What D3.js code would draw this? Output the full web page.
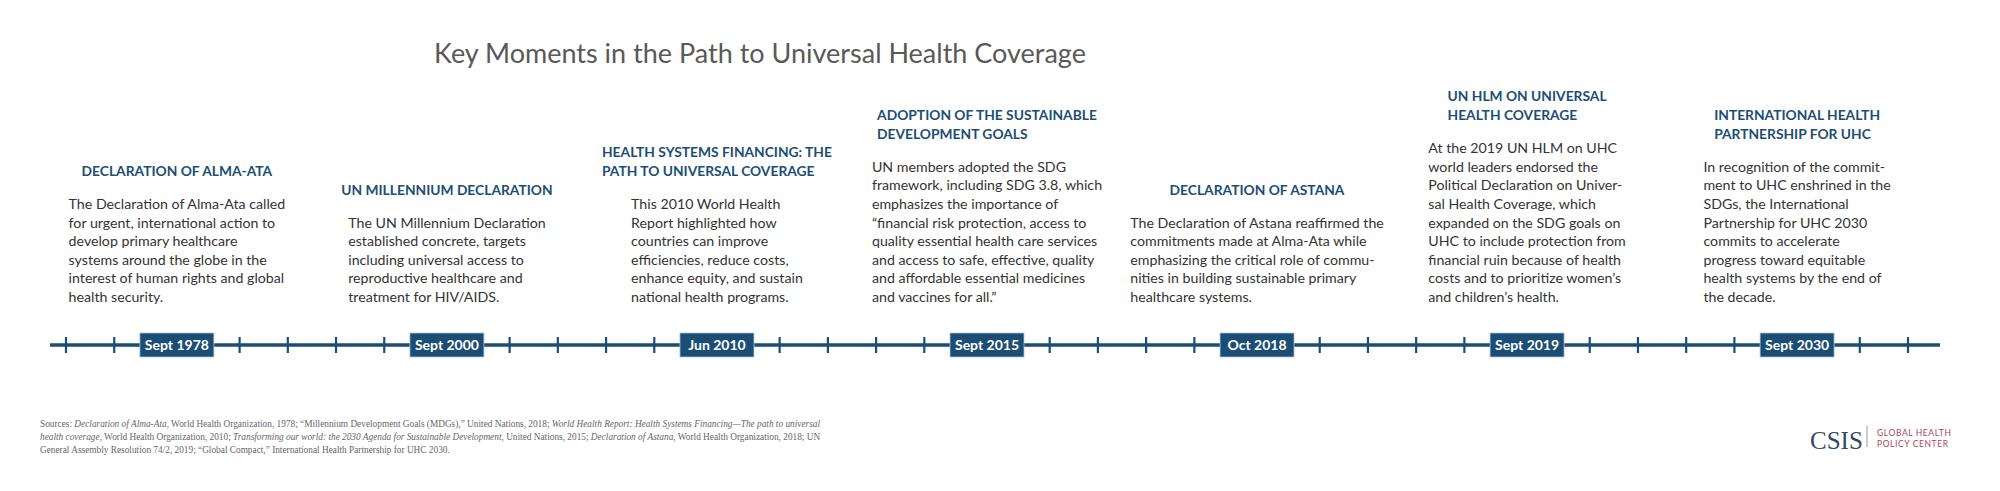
<!DOCTYPE html>
<html><head><meta charset="utf-8">
<script src="https://cdn.jsdelivr.net/npm/d3@7"></script>
<style>body{margin:0;background:#fff}</style>
</head><body><div id="chart"></div>
<script>
var svgWidth = 2000, svgHeight = 491;

// timeline data
var dates = ["Sept 1978", "Sept 2000", "Jun 2010", "Sept 2015", "Oct 2018", "Sept 2019", "Sept 2030"];
// plain ticks before each date label, and after the last one
var ticksBefore = [2, 4, 4, 4, 4, 4, 4];
var ticksAfter = 2;
var headings = [
  ["DECLARATION OF ALMA-ATA"],
  ["UN MILLENNIUM DECLARATION"],
  ["HEALTH SYSTEMS FINANCING: THE", "PATH TO UNIVERSAL COVERAGE"],
  ["ADOPTION OF THE SUSTAINABLE", "DEVELOPMENT GOALS"],
  ["DECLARATION OF ASTANA"],
  ["UN HLM ON UNIVERSAL", "HEALTH COVERAGE"],
  ["INTERNATIONAL HEALTH", "PARTNERSHIP FOR UHC"]
];
var bodies = [
  ["The Declaration of Alma-Ata called", "for urgent, international action to", "develop primary healthcare", "systems around the globe in the", "interest of human rights and global", "health security."],
  ["The UN Millennium Declaration", "established concrete, targets", "including universal access to", "reproductive healthcare and", "treatment for HIV/AIDS."],
  ["This 2010 World Health", "Report highlighted how", "countries can improve", "efficiencies, reduce costs,", "enhance equity, and sustain", "national health programs."],
  ["UN members adopted the SDG", "framework, including SDG 3.8, which", "emphasizes the importance of", "\u201cfinancial risk protection, access to", "quality essential health care services", "and access to safe, effective, quality", "and affordable essential medicines", "and vaccines for all.\u201d"],
  ["The Declaration of Astana reaffirmed the", "commitments made at Alma-Ata while", "emphasizing the critical role of commu-", "nities in building sustainable primary", "healthcare systems."],
  ["At the 2019 UN HLM on UHC", "world leaders endorsed the", "Political Declaration on Univer-", "sal Health Coverage, which", "expanded on the SDG goals on", "UHC to include protection from", "financial ruin because of health", "costs and to prioritize women\u2019s", "and children\u2019s health."],
  ["In recognition of the commit-", "ment to UHC enshrined in the", "SDGs, the International", "Partnership for UHC 2030", "commits to accelerate", "progress toward equitable", "health systems by the end of", "the decade."]
];

var blue = "#1c4e75";

var svg = d3.select("#chart").append("svg")
  .attr("width", svgWidth).attr("height", svgHeight)
  .style("font-family", "Lato, 'Open Sans', sans-serif");

svg.append("text")
  .attr("x", 760).attr("y", 63)
  .attr("text-anchor", "middle")
  .attr("font-size", 27).attr("fill", "#595959")
  .text("Key Moments in the Path to Universal Health Coverage");

// build slot positions: tick step 1, tick-to-label step 1.3
var slots = [], pos = 0, first = true;
dates.forEach(function(d, i) {
  for (var k = 0; k < ticksBefore[i]; k++) {
    if (!first) pos += (k === 0 ? 1.3 : 1);
    first = false;
    slots.push({type: "tick", p: pos});
  }
  pos += 1.3;
  slots.push({type: "label", p: pos, text: d, i: i});
});
for (var k = 0; k < ticksAfter; k++) {
  pos += (k === 0 ? 1.3 : 1);
  slots.push({type: "tick", p: pos});
}

var x = d3.scaleLinear().domain([0, pos]).range([66, 1908]);
var lineY = 345;

svg.append("line")
  .attr("x1", 50).attr("x2", 1940)
  .attr("y1", lineY).attr("y2", lineY)
  .attr("stroke", blue).attr("stroke-width", 3.5);

svg.selectAll(".tick").data(slots.filter(function(s){return s.type === "tick";}))
  .enter().append("line")
  .attr("x1", function(d){return x(d.p);}).attr("x2", function(d){return x(d.p);})
  .attr("y1", lineY - 8).attr("y2", lineY + 8)
  .attr("stroke", blue).attr("stroke-width", 2.2);

var labels = slots.filter(function(s){return s.type === "label";});
var lg = svg.selectAll(".lab").data(labels).enter().append("g")
  .attr("transform", function(d){return "translate(" + x(d.p) + "," + lineY + ")";});
lg.append("rect")
  .attr("x", -37).attr("y", -12).attr("width", 74).attr("height", 24)
  .attr("fill", blue).attr("stroke", "#a9c6dd").attr("stroke-width", 0.8);
lg.append("text")
  .attr("text-anchor", "middle").attr("y", 5)
  .attr("fill", "#fff").attr("font-size", 14).attr("font-weight", "bold")
  .text(function(d){return d.text;});

// text blocks, bottom-aligned above the timeline
var lh = 18.6, bottomY = 302;
labels.forEach(function(l) {
  var cx = x(l.p), i = l.i;
  var body = bodies[i], head = headings[i];
  var firstBody = bottomY - (body.length - 1) * lh;
  var bt = svg.append("text").attr("font-size", 14.2).attr("fill", "#333");
  bt.selectAll("tspan").data(body).enter().append("tspan")
    .attr("y", function(d, j){return firstBody + j * lh;})
    .text(function(d){return d;});
  var w = 0;
  bt.selectAll("tspan").each(function(){ w = Math.max(w, this.getComputedTextLength()); });
  bt.selectAll("tspan").attr("x", cx - w / 2);

  var headLast = firstBody - 33;
  var ht = svg.append("text").attr("font-size", 13.8).attr("font-weight", "bold").attr("fill", blue);
  ht.selectAll("tspan").data(head).enter().append("tspan")
    .attr("y", function(d, j){return headLast - (head.length - 1 - j) * 19;})
    .text(function(d){return d;});
  var hw = 0;
  ht.selectAll("tspan").each(function(){ hw = Math.max(hw, this.getComputedTextLength()); });
  ht.selectAll("tspan").attr("x", cx - hw / 2);
});

// sources
var src = svg.append("text").attr("font-family", "'Liberation Serif', serif")
  .attr("font-size", 9.3).attr("fill", "#666");
var srcLines = [
  [["Sources: ", 0], ["Declaration of Alma-Ata", 1], [", World Health Organization, 1978; \u201cMillennium Development Goals (MDGs),\u201d United Nations, 2018; ", 0], ["World Health Report: Health Systems Financing\u2014The path to universal", 1]],
  [["health coverage", 1], [", World Health Organization, 2010; ", 0], ["Transforming our world: the 2030 Agenda for Sustainable Development", 1], [", United Nations, 2015; ", 0], ["Declaration of Astana", 1], [", World Health Organization, 2018; UN", 0]],
  [["General Assembly Resolution 74/2, 2019; \u201cGlobal Compact,\u201d International Health Partnership for UHC 2030.", 0]]
];
srcLines.forEach(function(line, j) {
  line.forEach(function(seg, k) {
    var t = src.append("tspan").attr("font-style", seg[1] ? "italic" : "normal").text(seg[0]);
    if (k === 0) t.attr("x", 40).attr("y", 427 + j * 13);
  });
});

// logo
svg.append("text").attr("x", 1810).attr("y", 449)
  .attr("font-family", "'Liberation Serif', serif").attr("font-size", 25)
  .attr("fill", "#2f4b66").text("CSIS");
svg.append("line").attr("x1", 1867).attr("x2", 1867).attr("y1", 426).attr("y2", 447)
  .attr("stroke", "#999").attr("stroke-width", 1);
svg.append("text").attr("x", 1877).attr("y", 436)
  .attr("font-size", 8.5).attr("fill", "#b0445a").attr("letter-spacing", 0.6).text("GLOBAL HEALTH");
svg.append("text").attr("x", 1877).attr("y", 447)
  .attr("font-size", 8.5).attr("fill", "#b0445a").attr("letter-spacing", 0.6).text("POLICY CENTER");
</script>
</body></html>
